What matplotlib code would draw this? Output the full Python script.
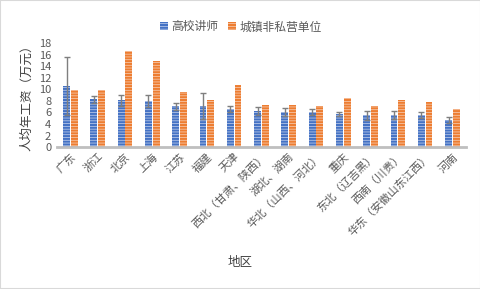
import matplotlib.pyplot as plt
import numpy as np

plt.rcParams['font.family'] = ['Noto Sans CJK SC', 'DejaVu Sans']
plt.rcParams['hatch.linewidth'] = 0.5

# 数据
regions = ['广东', '浙江', '北京', '上海', '江苏', '福建', '天津',
           '西北（甘肃、陕西）', '湖北、湖南', '华北（山西、河北）', '重庆',
           '东北（辽吉黑）', '西南（川贵）', '华东（安徽山东江西）', '河南']
lecturer = [10.6, 8.3, 8.1, 8.0, 7.1, 7.1, 6.6, 6.2, 6.05, 6.05, 5.7, 5.5, 5.5, 5.5, 4.7]
lecturer_err = [5.0, 0.6, 1.0, 1.1, 0.6, 2.2, 0.45, 0.7, 0.65, 0.5, 0.3, 0.8, 0.7, 0.5, 0.45]
non_private = [9.9, 9.9, 16.6, 14.9, 9.5, 8.1, 10.7, 7.3, 7.3, 7.1, 8.5, 7.1, 8.1, 7.8, 6.6]

blue = '#4472C4'
orange = '#ED7D31'
gray = '#595959'

fig = plt.figure(figsize=(4.81, 2.89), dpi=100)
ax = fig.add_axes([0.118, 0.491, 0.851, 0.36])

x = np.arange(len(regions))
w = 0.25
ax.bar(x - w / 2 - 0.015, lecturer, w, color=blue, edgecolor='#C9D5EE', linewidth=0,
       hatch='------', label='高校讲师',
       yerr=lecturer_err, ecolor='#7F7F7F', capsize=2.5, error_kw={'elinewidth': 1})
ax.bar(x + w / 2 + 0.015, non_private, w, color=orange, edgecolor='#F8D3BC', linewidth=0,
       hatch='------', label='城镇非私营单位')

ax.set_xlim(-0.5, len(regions) - 0.5)
ax.set_ylim(0, 18)
ax.set_yticks(range(0, 19, 2))
ax.tick_params(axis='y', length=0, labelsize=8, labelcolor=gray, pad=4)
ax.tick_params(axis='x', length=0, labelsize=8, labelcolor=gray, pad=3)
ax.set_xticks(x)
ax.set_xticklabels(regions, rotation=45, ha='right', rotation_mode='anchor')

for s in ['top', 'right', 'left']:
    ax.spines[s].set_visible(False)
ax.spines['bottom'].set_color('#BFBFBF')
ax.spines['bottom'].set_linewidth(2)

ax.set_ylabel('人均年工资（万元）', fontsize=9, color='#404040', labelpad=4)
fig.text(0.5, 0.09, '地区', ha='center', va='center', fontsize=9, color='#404040')

ax.legend(loc='upper center', bbox_to_anchor=(0.45, 1.32), ncol=2, frameon=False,
          fontsize=8.5, labelcolor=gray, handlelength=0.7, handleheight=0.7,
          handletextpad=0.3, columnspacing=0.8)

fig.patches.append(plt.Rectangle((0, 0), 1, 1, transform=fig.transFigure,
                                 fill=False, edgecolor='#D9D9D9', linewidth=1.5))

plt.savefig('out.png', dpi=100)
